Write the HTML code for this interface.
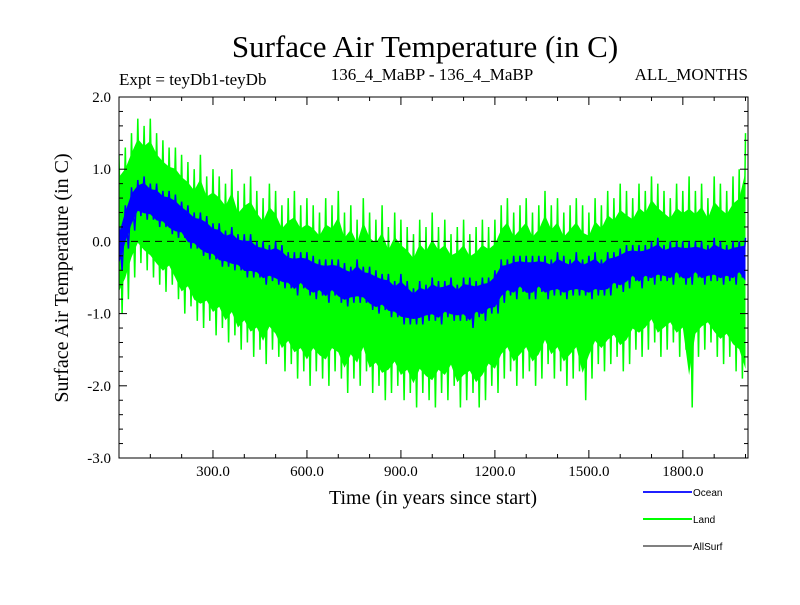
<!DOCTYPE html>
<html><head><meta charset="utf-8"><style>
body{margin:0;background:#fff;}
svg text{font-family:"Liberation Serif",serif;}
</style></head><body>
<svg id="chart" width="800" height="600" xmlns="http://www.w3.org/2000/svg">
<rect width="800" height="600" fill="#fff"/>
<text x="425" y="57" font-size="31" text-anchor="middle">Surface Air Temperature (in C)</text>
<text x="119" y="85" font-size="17">Expt = teyDb1-teyDb</text>
<text x="432" y="80" font-size="17" text-anchor="middle">136_4_MaBP - 136_4_MaBP</text>
<text x="748" y="80" font-size="17" text-anchor="end">ALL_MONTHS</text>
<g id="plot"></g>
<g id="axes"></g>
<text x="433" y="504" font-size="20" text-anchor="middle">Time (in years since start)</text>
<text transform="translate(68,278) rotate(-90)" font-size="20" text-anchor="middle">Surface Air Temperature (in C)</text>
<g font-family="Liberation Sans" >
<line x1="643" y1="492" x2="692" y2="492" stroke="#2020ff" stroke-width="2"/>
<text x="693" y="496" font-size="10" style="font-family:'Liberation Sans',sans-serif">Ocean</text>
<line x1="643" y1="519" x2="692" y2="519" stroke="#00ff00" stroke-width="2"/>
<text x="693" y="523" font-size="10" style="font-family:'Liberation Sans',sans-serif">Land</text>
<line x1="643" y1="546" x2="692" y2="546" stroke="#000" stroke-width="1"/>
<text x="693" y="550" font-size="10" style="font-family:'Liberation Sans',sans-serif">AllSurf</text>
</g>
</svg>
<script>
const oceanMean=[-0.1,0.2,0.45,0.6,0.6,0.55,0.5,0.45,0.4,0.35,0.3,0.2,0.15,0.1,0.05,0.0,-0.05,-0.1,-0.1,-0.15,-0.2,-0.2,-0.25,-0.3,-0.3,-0.3,-0.35,-0.4,-0.45,-0.4,-0.45,-0.5,-0.5,-0.55,-0.5,-0.55,-0.6,-0.6,-0.55,-0.6,-0.65,-0.7,-0.7,-0.75,-0.8,-0.8,-0.85,-0.9,-0.85,-0.85,-0.8,-0.85,-0.8,-0.8,-0.85,-0.8,-0.85,-0.8,-0.8,-0.75,-0.7,-0.55,-0.5,-0.5,-0.45,-0.5,-0.5,-0.45,-0.5,-0.5,-0.45,-0.5,-0.5,-0.45,-0.5,-0.5,-0.45,-0.5,-0.45,-0.4,-0.4,-0.35,-0.3,-0.35,-0.3,-0.3,-0.25,-0.3,-0.3,-0.25,-0.3,-0.3,-0.25,-0.3,-0.3,-0.25,-0.3,-0.3,-0.3,-0.25,-0.3];
const oceanSpread=[0.3,0.3,0.3,0.25,0.3,0.25,0.3,0.25,0.3,0.3,0.25,0.3,0.25,0.3,0.3,0.25,0.3,0.25,0.3,0.25,0.3,0.3,0.25,0.3,0.25,0.3,0.3,0.25,0.3,0.25,0.3,0.3,0.25,0.3,0.25,0.3,0.3,0.25,0.3,0.25,0.3,0.3,0.25,0.3,0.25,0.35,0.3,0.25,0.3,0.25,0.3,0.3,0.25,0.3,0.25,0.3,0.35,0.25,0.3,0.25,0.3,0.3,0.25,0.3,0.25,0.3,0.3,0.25,0.3,0.25,0.3,0.3,0.25,0.3,0.25,0.3,0.3,0.25,0.3,0.25,0.3,0.3,0.25,0.3,0.25,0.3,0.3,0.25,0.3,0.25,0.3,0.3,0.25,0.3,0.25,0.3,0.3,0.25,0.3,0.25,0.35];
const landHi=[1.2,1.3,1.5,1.7,1.6,1.7,1.5,1.4,1.3,1.3,1.2,1.1,1.0,1.2,0.9,1.0,0.9,0.8,1.0,0.7,0.8,0.9,0.7,0.6,0.8,0.7,0.5,0.6,0.7,0.5,0.6,0.5,0.4,0.6,0.5,0.7,0.4,0.5,0.3,0.6,0.4,0.3,0.5,0.2,0.4,0.3,0.2,0.1,0.3,0.2,0.4,0.2,0.3,0.1,0.2,0.3,0.1,0.2,0.3,0.2,0.3,0.5,0.6,0.4,0.5,0.6,0.4,0.5,0.7,0.5,0.6,0.4,0.5,0.6,0.5,0.4,0.6,0.5,0.7,0.6,0.8,0.7,0.6,0.8,0.7,0.9,0.8,0.7,0.6,0.8,0.7,0.9,0.7,0.8,0.6,0.9,0.8,0.7,0.9,1.0,1.5];
const landLo=[-1.0,-0.8,-0.5,-0.3,-0.4,-0.5,-0.6,-0.7,-0.6,-0.8,-1.0,-0.9,-1.1,-1.2,-1.1,-1.3,-1.2,-1.4,-1.3,-1.5,-1.4,-1.6,-1.5,-1.7,-1.5,-1.6,-1.8,-1.7,-1.9,-1.8,-2.0,-1.8,-1.9,-2.0,-1.8,-1.9,-2.1,-1.9,-2.0,-1.8,-2.1,-2.0,-2.2,-2.1,-2.0,-2.2,-2.1,-2.3,-2.1,-2.2,-2.3,-2.1,-2.2,-2.0,-2.3,-2.2,-2.1,-2.3,-2.2,-2.0,-2.1,-1.9,-1.8,-2.0,-1.9,-1.8,-2.0,-1.9,-1.7,-1.9,-1.8,-2.0,-1.9,-1.8,-2.2,-1.9,-1.7,-1.8,-1.7,-1.6,-1.8,-1.7,-1.5,-1.6,-1.5,-1.4,-1.6,-1.5,-1.4,-1.6,-1.5,-2.3,-1.6,-1.5,-1.4,-1.6,-1.7,-1.6,-1.8,-1.9,-2.3];
const xTicks=[300,600,900,1200,1500,1800];
const xTickLabels=["300.0","600.0","900.0","1200.0","1500.0","1800.0"];
const yTicks=[2,1,0,-1,-2,-3];
const yTickLabels=["2.0","1.0","0.0","-1.0","-2.0","-3.0"];
const step=20;

const L=119,R=748,T=97,B=458,X0=0,X1=2008,Y0=-3,Y1=2;
const sx=v=>L+(v-X0)/(X1-X0)*(R-L);
const sy=v=>B-(v-Y0)/(Y1-Y0)*(B-T);
const NS="http://www.w3.org/2000/svg";
const plot=document.getElementById('plot'),axes=document.getElementById('axes');
function mk(tag,attrs,parent){const e=document.createElementNS(NS,tag);for(const k in attrs)e.setAttribute(k,attrs[k]);parent.appendChild(e);return e;}
const cl=mk('clipPath',{id:'clip'},plot);mk('rect',{x:L,y:T,width:R-L,height:B-T},cl);
const g=mk('g',{'clip-path':'url(#clip)'},plot);
function band(hi,lo,color,name,shrink){
  const n=Math.min(hi.length,lo.length);let top=[],bot=[];
  for(let i=0;i<n;i++){const m=(hi[i]+lo[i])/2;top.push(sx(i*step).toFixed(1)+','+sy(m+(hi[i]-m)*shrink).toFixed(1));bot.unshift(sx(i*step).toFixed(1)+','+sy(m+(lo[i]-m)*shrink).toFixed(1));}
  const p=mk('polygon',{points:top.concat(bot).join(' '),fill:color},g);
  
  
  let z=[];
  for(let i=0;i<n;i++){z.push(sx(i*step).toFixed(1)+','+sy(hi[i]).toFixed(1));if(i<n-1)z.push(sx(i*step+step/2).toFixed(1)+','+sy(lo[i]).toFixed(1));}
  const l=mk('polyline',{points:z.join(' '),fill:'none',stroke:color,'stroke-width':1.5},g);
  
  
}
band(landHi,landLo,'#00ff00','land',0.72);
const zl=mk('line',{x1:L,x2:R,y1:sy(0),y2:sy(0),stroke:'#000','stroke-dasharray':'7,5','stroke-width':1},g);


const oHi=oceanMean.map((m,i)=>m+oceanSpread[i]),oLo=oceanMean.map((m,i)=>m-oceanSpread[i]);
band(oHi,oLo,'#0000ff','ocean',0.7);
const fr=mk('rect',{x:L,y:T,width:R-L,height:B-T,fill:'none',stroke:'#000','stroke-width':1},axes);


for(let v=100;v<X1;v+=100){const maj=v%300===0,len=maj?8:4;
  mk('line',{x1:sx(v),x2:sx(v),y1:B,y2:B-len,stroke:'#000'},axes);mk('line',{x1:sx(v),x2:sx(v),y1:T,y2:T+len,stroke:'#000'},axes);}
for(let v=-3;v<=2.001;v+=0.2){const maj=Math.abs(v-Math.round(v))<1e-6,len=maj?8:4;
  mk('line',{x1:L,x2:L+len,y1:sy(v),y2:sy(v),stroke:'#000'},axes);mk('line',{x1:R,x2:R-len,y1:sy(v),y2:sy(v),stroke:'#000'},axes);}
xTicks.forEach((v,i)=>{const t=mk('text',{x:sx(v),y:476,'font-size':15,'text-anchor':'middle'},axes);t.textContent=xTickLabels[i];
  
  });
yTicks.forEach((v,i)=>{const t=mk('text',{x:111,y:sy(v)+5,'font-size':15,'text-anchor':'end'},axes);t.textContent=yTickLabels[i];
  
  });
</script>
</body></html>
